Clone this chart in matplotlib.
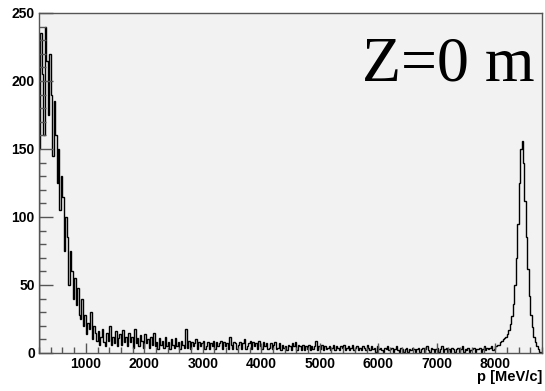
import numpy as np
import matplotlib.pyplot as plt
from matplotlib.ticker import MultipleLocator

# momentum histogram, 25 MeV/c bins from 200 to 8800 MeV/c
p_min, p_max, bin_w = 200, 8800, 25

low_p = [150, 235, 205, 160, 240, 215, 175, 220, 190, 145, 185, 160, 125, 150, 105, 130, 115, 75, 100, 85,
         50, 75, 60, 40, 55, 35, 48, 28, 25, 40, 20, 28, 14, 22, 18, 30, 10, 20, 15, 9]
tail = [16, 6, 12, 18, 8, 5, 15, 9, 20, 6, 12, 7, 16, 5, 11, 14, 6, 17, 8, 12,
        5, 15, 8, 12, 4, 18, 7, 11, 5, 13, 9, 4, 14, 7, 10, 4, 12, 6, 15, 5,
        8, 3, 11, 6, 9, 4, 12, 5, 8, 3, 10, 6, 4, 11, 5, 8, 3, 9, 6, 4,
        18, 4, 9, 3, 8, 5, 7, 10, 3, 8, 5, 7, 9, 3, 5, 8, 3, 7, 5, 9,
        3, 8, 5, 7, 9, 3, 8, 5, 7, 3, 12, 6, 3, 8, 7, 3, 6, 8, 3, 7,
        10, 3, 5, 7, 9, 3, 8, 5, 7, 3, 9, 5, 3, 8, 5, 7, 3, 4, 7, 3,
        6, 8, 3, 4, 7, 2, 6, 4, 5, 2, 6, 5, 2, 7, 5, 8, 2, 6, 5, 2,
        6, 2, 5, 3, 6, 2, 5, 3, 5, 9, 2, 5, 3, 6, 2, 5, 3, 4, 5, 2,
        4, 6, 2, 5, 4, 2, 5, 4, 6, 2, 4, 5, 2, 4, 6, 2, 4, 5, 2, 4,
        2, 5, 4, 2, 6, 4, 2, 5, 3, 4, 1, 5, 3, 4, 2, 1, 4, 3, 5, 2,
        3, 4, 1, 3, 5, 2, 1, 4, 3, 1, 3, 4, 1, 3, 2, 4, 3, 1, 3, 4,
        1, 3, 4, 1, 3, 5, 2, 1, 4, 3, 1, 3, 4, 1, 3, 5, 1, 3, 4, 1,
        3, 1, 4, 3, 1, 3, 4, 1, 3, 5, 1, 3, 2, 4, 1, 2, 3, 4, 1, 3,
        3, 4, 1, 3, 5, 2, 4, 3, 4, 5, 2, 3]
beam_peak = [5, 6, 6, 8, 9, 10, 11, 12,
             14, 17, 21, 27, 36, 50, 70, 95, 125, 150, 156, 140, 112, 85, 62, 42, 28, 19, 12, 8,
             5, 3, 1, 0]

counts = np.array(low_p + tail + beam_peak, dtype=float)
edges = p_min + bin_w * np.arange(len(counts) + 1)

fig = plt.figure(figsize=(5.45, 3.91), dpi=100)
ax = fig.add_axes([0.0716, 0.0972, 0.9229, 0.8696])
ax.set_facecolor('#f2f2f2')

ax.stairs(counts, edges, color='black', lw=1.0)

ax.set_xlim(p_min, p_max)
ax.set_ylim(0, 250)
ax.xaxis.set_major_locator(MultipleLocator(1000))
ax.xaxis.set_minor_locator(MultipleLocator(200))
ax.yaxis.set_major_locator(MultipleLocator(50))
ax.yaxis.set_minor_locator(MultipleLocator(10))
ax.tick_params(axis='both', which='both', direction='in', top=False, right=False,
               color='#555555', width=1)
ax.tick_params(axis='y', which='major', length=10)
ax.tick_params(axis='y', which='minor', length=5)
ax.tick_params(axis='x', which='major', length=7)
ax.tick_params(axis='x', which='minor', length=4)
ax.tick_params(axis='both', labelsize=10, pad=3)
for lbl in ax.get_xticklabels() + ax.get_yticklabels():
    lbl.set_fontfamily('Liberation Sans')
    lbl.set_fontweight('bold')
ax.set_xticks([1000, 2000, 3000, 4000, 5000, 6000, 7000, 8000])
ax.set_xticklabels(['1000', '2000', '3000', '4000', '5000', '6000', '7000', '8000'],
                   fontfamily='Liberation Sans', fontweight='bold', fontsize=10)

for s in ax.spines.values():
    s.set_color('#555555')
    s.set_linewidth(1)

fig.text(0.9945, 0.018, 'p [MeV/c]', ha='right', va='bottom',
         fontfamily='Liberation Sans', fontweight='bold', fontsize=10.5)
ax.text(0.643, 0.80, 'Z=0 m', transform=ax.transAxes, ha='left', va='baseline',
        fontfamily='Liberation Serif', fontsize=46)

fig.savefig('out.png', dpi=100)
